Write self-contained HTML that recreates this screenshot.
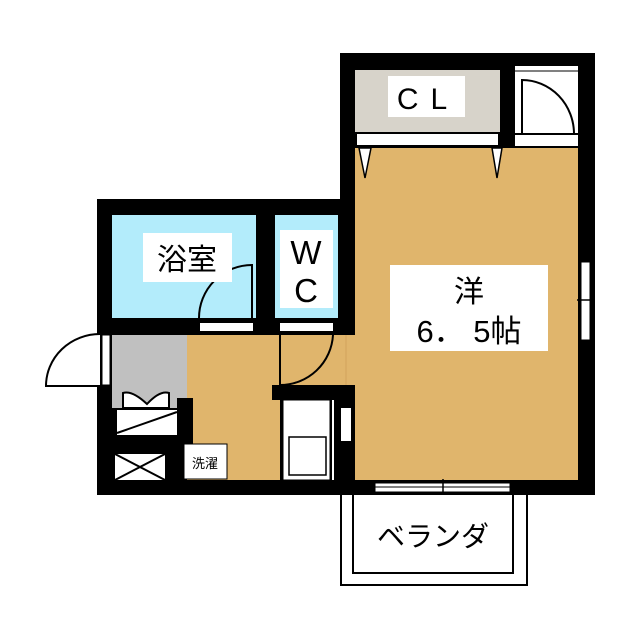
<!DOCTYPE html><html><head><meta charset="utf-8"><style>body{margin:0;background:#fff}svg{display:block}text{font-family:"Liberation Sans","Noto Sans CJK JP",sans-serif}</style></head><body>
<svg width="640" height="640" viewBox="0 0 640 640" xmlns="http://www.w3.org/2000/svg">
<rect width="640" height="640" fill="#fff"/>
<!-- balcony -->
<rect x="341" y="493" width="186" height="92" fill="#fff" stroke="#000" stroke-width="2"/>
<rect x="353" y="493" width="160" height="80" fill="#fff" stroke="#000" stroke-width="2"/>
<text x="433" y="546" font-size="28" text-anchor="middle">ベランダ</text>
<!-- walls base -->
<rect x="97" y="199" width="258" height="296" fill="#000"/>
<rect x="340" y="53" width="255" height="442" fill="#000"/>
<!-- bath -->
<rect x="112" y="215" width="144" height="103" fill="#b3ecfb"/>
<rect x="275" y="215" width="63" height="103" fill="#b3ecfb"/>
<rect x="200" y="323" width="53" height="8" fill="#fff"/>
<rect x="280" y="323" width="53" height="8" fill="#fff"/>
<path d="M252 318 V265 A53 53 0 0 0 199 318" fill="none" stroke="#000" stroke-width="2"/>
<!-- hallway -->
<rect x="112" y="335" width="75" height="73" fill="#c0c0c0"/>
<rect x="187" y="335" width="93" height="145" fill="#e0b56c"/>
<rect x="280" y="335" width="76" height="50" fill="#e0b56c"/>
<line x1="346" y1="335" x2="346" y2="385" stroke="#d2a45c" stroke-width="1"/>
<path d="M280 335 V385 A53 53 0 0 0 333 335" fill="none" stroke="#000" stroke-width="2"/>
<!-- entrance door -->
<rect x="102" y="335" width="8" height="50" fill="#fff" stroke="#000" stroke-width="1"/>
<path d="M100 386 H46 A54 52 0 0 1 100 334" fill="#fff" stroke="#000" stroke-width="2"/>
<!-- shoe cabinet -->
<path d="M123 408 V393 Q132 390 147 404 Q160 390 169 393 V408 Z" fill="#fff" stroke="#000" stroke-width="2"/>
<rect x="117" y="410" width="60" height="25" fill="#fff"/>
<line x1="117" y1="433" x2="177" y2="412" stroke="#000" stroke-width="2"/>
<rect x="177" y="398" width="16" height="52" fill="#000"/>
<rect x="115" y="454" width="50" height="26" fill="#fff"/>
<path d="M115 454 L165 480 M165 454 L115 480" stroke="#000" stroke-width="2"/>
<rect x="184" y="444" width="43" height="35" fill="#fff" stroke="#000" stroke-width="1"/>
<text x="205" y="468" font-size="13" text-anchor="middle">洗濯</text>
<!-- kitchen -->
<rect x="272" y="385" width="83" height="15" fill="#000"/>
<rect x="283" y="400" width="47" height="80" fill="#fff" stroke="#000" stroke-width="1"/>
<rect x="289" y="437" width="37" height="38" fill="#fff" stroke="#000" stroke-width="1.5"/>
<rect x="332" y="400" width="2" height="80" fill="#fff"/>
<rect x="341" y="408" width="10" height="33" fill="#fff"/>
<!-- main room -->
<rect x="355" y="148" width="223" height="332" fill="#e0b56c"/>
<rect x="355" y="70" width="145" height="62" fill="#d7d3ca"/>
<rect x="357" y="134" width="141" height="11" fill="#fff"/>
<rect x="515" y="70" width="63" height="76" fill="#fff"/>
<line x1="515" y1="68" x2="578" y2="68" stroke="#fff" stroke-width="4"/>
<line x1="515" y1="71" x2="578" y2="71" stroke="#000" stroke-width="1"/>
<path d="M522 134 V80 A52 54 0 0 1 574 134" fill="none" stroke="#000" stroke-width="2"/>
<rect x="522" y="136" width="53" height="10" fill="#fff"/>
<line x1="515" y1="134" x2="578" y2="134" stroke="#000" stroke-width="2"/>
<path d="M359 148 L365 178 L371 148 Z M492 148 L497 178 L502 148 Z" fill="#fff" stroke="#000" stroke-width="1.5"/>
<rect x="581" y="262" width="9" height="78" fill="#fff" stroke="#000" stroke-width="1"/>
<line x1="577" y1="300" x2="595" y2="300" stroke="#000" stroke-width="1.5"/>
<rect x="375" y="483" width="135" height="9" fill="#fff" stroke="#000" stroke-width="1"/>
<line x1="375" y1="487" x2="510" y2="487" stroke="#000" stroke-width="1"/>
<line x1="443" y1="479" x2="443" y2="495" stroke="#000" stroke-width="1.5"/>
<!-- labels -->
<rect x="388" y="76" width="77" height="41" fill="#fff"/>
<text x="428" y="109" font-size="30" text-anchor="middle" letter-spacing="12">CL</text>
<rect x="143" y="233" width="89" height="49" fill="#fff"/>
<text x="187" y="270" font-size="30" text-anchor="middle">浴室</text>
<rect x="280" y="230" width="53" height="78" fill="#fff"/>
<text x="306" y="264" font-size="33" text-anchor="middle">W</text>
<text x="306" y="302" font-size="33" text-anchor="middle">C</text>
<rect x="390" y="265" width="158" height="86" fill="#fff"/>
<text x="469" y="302" font-size="30" text-anchor="middle">洋</text>
<text x="469" y="342" font-size="31" text-anchor="middle">6． 5帖</text>
</svg></body></html>
